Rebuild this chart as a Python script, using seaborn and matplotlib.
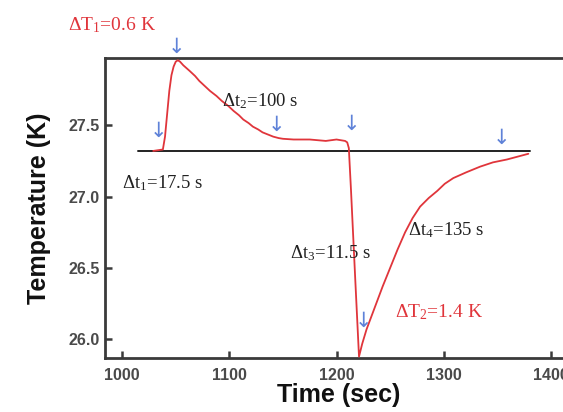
import matplotlib
matplotlib.use("Agg")
import matplotlib.pyplot as plt
import seaborn as sns
import pandas as pd

# ---- data ----
time_s = [1029, 1038, 1040, 1042, 1044, 1046, 1048, 1050, 1052, 1054, 1057, 1060,
          1063, 1068, 1072, 1077, 1082, 1088, 1093, 1099, 1104, 1109, 1113, 1118,
          1122, 1127, 1131, 1136, 1141, 1146, 1150, 1160, 1175, 1190, 1200, 1208,
          1210, 1211.5, 1213.5, 1217.5, 1221, 1224, 1228, 1232, 1236, 1243, 1250, 1257,
          1264, 1271, 1278, 1286, 1294, 1301, 1309, 1321, 1334, 1346, 1359, 1369, 1379]
temp_k = [27.32, 27.33, 27.42, 27.58, 27.74, 27.85, 27.91, 27.945, 27.955, 27.945, 27.92, 27.90,
          27.88, 27.845, 27.81, 27.775, 27.74, 27.705, 27.67, 27.635, 27.60, 27.57, 27.54, 27.515,
          27.49, 27.47, 27.45, 27.435, 27.42, 27.41, 27.405, 27.40, 27.40, 27.39, 27.40, 27.39,
          27.38, 27.34, 27.05, 26.42, 25.88, 25.97, 26.07, 26.15, 26.23, 26.37, 26.50, 26.63,
          26.75, 26.85, 26.93, 26.99, 27.04, 27.09, 27.13, 27.17, 27.21, 27.24, 27.26, 27.28, 27.30]

baseline_x = [1015, 1381]
baseline_y = [27.32, 27.32]

arrow_x = [1051, 1034, 1144, 1214, 1354, 1225]
arrow_y = [28.05, 27.46, 27.50, 27.51, 27.41, 26.13]

black_labels = ["Δt$_1$=17.5 s", "Δt$_2$=100 s", "Δt$_3$=11.5 s", "Δt$_4$=135 s"]
black_x = [1000, 1093, 1157, 1267]
black_y = [27.095, 27.67, 26.605, 26.766]

red_labels = ["ΔT$_1$=0.6 K", "ΔT$_2$=1.4 K"]
red_x = [949.6, 1254.7]
red_y = [28.20, 26.19]

x_ticks = [1000, 1100, 1200, 1300, 1400]
y_ticks = [26.0, 26.5, 27.0, 27.5]

# ---- figure ----
sns.set_style("ticks")
plt.rcParams["font.family"] = ["Liberation Sans", "DejaVu Sans"]
plt.rcParams["mathtext.fontset"] = "custom"
plt.rcParams["mathtext.rm"] = "Liberation Serif"
plt.rcParams["mathtext.it"] = "Liberation Serif"

fig = plt.figure(figsize=(5.63, 4.12), dpi=100)
ax = fig.add_axes([0.1865, 0.131, 0.83, 0.728])

df = pd.DataFrame({"Time (sec)": time_s, "Temperature (K)": temp_k})
sns.lineplot(data=df, x="Time (sec)", y="Temperature (K)", ax=ax,
             color="#e0353b", linewidth=1.3, sort=False, zorder=3)
ax.plot(baseline_x, baseline_y, color="#222222", linewidth=1.4, zorder=2)

ax.set_xlim(984, 1420)
ax.set_ylim(25.87, 27.97)
ax.set_xticks(x_ticks)
ax.set_yticks(y_ticks)
ax.set_xticklabels([str(v) for v in x_ticks])
ax.set_yticklabels([f"{v:.1f}" for v in y_ticks])

for s in ax.spines.values():
    s.set_color("#3a3a3a")
    s.set_linewidth(2.0)

ax.tick_params(direction="in", length=5, width=1.8, color="#3a3a3a",
               labelsize=11.5, labelcolor="#4a4a4a")
for lab in ax.get_xticklabels() + ax.get_yticklabels():
    lab.set_fontweight("bold")
ax.tick_params(axis="x", pad=7)
ax.tick_params(axis="y", pad=4)

ax.set_xlabel("Time (sec)", fontsize=18, fontweight="bold", color="#111111", labelpad=0)
ax.set_ylabel("Temperature (K)", fontsize=18, fontweight="bold", color="#111111", labelpad=12)

for x, y in zip(arrow_x, arrow_y):
    ax.text(x, y, "↓", color="#5f82d8", fontsize=15, ha="center", va="center",
            family="DejaVu Sans", clip_on=False, zorder=4)

for t, x, y in zip(black_labels, black_x, black_y):
    ax.text(x, y, t, color="#222222", fontsize=13.5, family="Liberation Serif",
            ha="left", va="center", clip_on=False, zorder=4)

for t, x, y in zip(red_labels, red_x, red_y):
    ax.text(x, y, t, color="#e0353b", fontsize=14, family="Liberation Serif",
            ha="left", va="center", clip_on=False, zorder=4)

fig.savefig("out.png", dpi=100)
